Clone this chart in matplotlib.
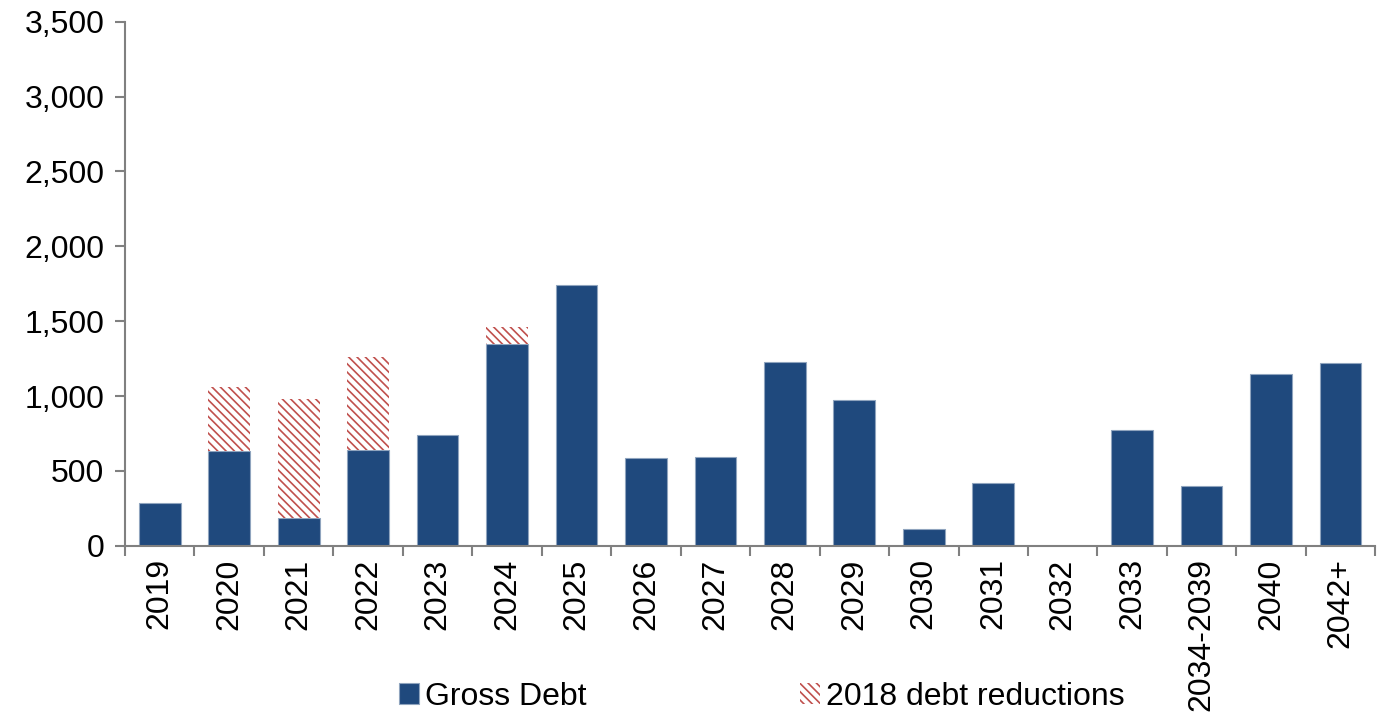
# Debt maturity profile: gross debt plus 2018 debt reductions

import matplotlib.pyplot as plt
import numpy as np

plt.rcParams['font.family'] = ['Liberation Sans', 'DejaVu Sans']
plt.rcParams['hatch.linewidth'] = 1.2

# Data
years = ['2019', '2020', '2021', '2022', '2023', '2024', '2025', '2026', '2027',
         '2028', '2029', '2030', '2031', '2032', '2033', '2034-2039', '2040', '2042+']
gross_debt = [285, 635, 187, 641, 741, 1349, 1743, 588, 594,
              1229, 975, 114, 421, 0, 775, 401, 1149, 1222]
reductions = [0, 427, 795, 621, 0, 114, 0, 0, 0,
              0, 0, 0, 0, 0, 0, 0, 0, 0]

fig = plt.figure(figsize=(13.83, 7.21), dpi=100)
ax = fig.add_axes([0.0904, 0.243, 0.904, 0.727])

x = np.arange(len(years))
ax.bar(x, gross_debt, width=0.6, color='#1F497D', edgecolor='#8FA4BE', linewidth=0.8,
       label='Gross Debt')
ax.bar(x, reductions, width=0.6, bottom=gross_debt, color='white', edgecolor='#C0504D',
       hatch='\\\\\\\\', linewidth=0, label='2018 debt reductions')

ax.set_ylim(0, 3500)
ax.set_xlim(-0.5, len(years) - 0.5)
ax.set_yticks(range(0, 3501, 500))
ax.set_yticklabels([f'{v:,}' for v in range(0, 3501, 500)])

# labels on categories, tick marks between them
ax.set_xticks(x)
ax.set_xticklabels(years, rotation=90)
ax.set_xticks(np.arange(-0.5, len(years), 1), minor=True)
ax.tick_params(axis='x', which='major', length=0, pad=9)
ax.tick_params(axis='x', which='minor', length=7, color='#808080', width=1.5)
ax.tick_params(axis='y', length=7, color='#808080', width=1.5, pad=8)
ax.tick_params(labelsize=23)

for s in ['top', 'right']:
    ax.spines[s].set_visible(False)
for s in ['left', 'bottom']:
    ax.spines[s].set_color('#808080')
    ax.spines[s].set_linewidth(1.5)

fig.legend(loc='lower center', bbox_to_anchor=(0.551, -0.027), ncol=2, frameon=False,
           fontsize=23, handlelength=0.6, handleheight=0.6, handletextpad=0.2,
           columnspacing=6.7)

plt.savefig('out.png', dpi=100)
